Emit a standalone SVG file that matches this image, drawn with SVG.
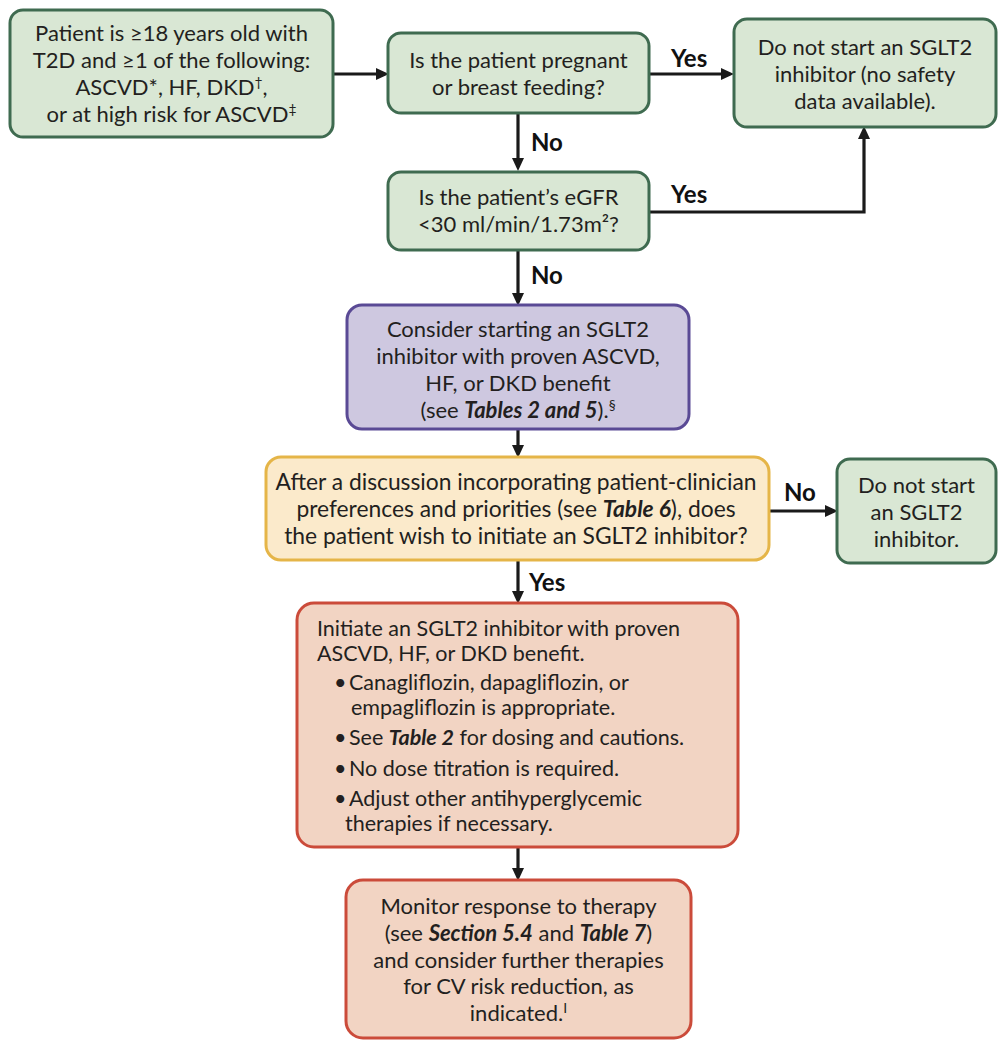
<svg xmlns="http://www.w3.org/2000/svg" width="1007" height="1050" viewBox="0 0 1007 1050">
<defs>
<style>
text{font-family:Lato,"Noto Sans","DejaVu Sans",sans-serif;font-size:22px;fill:#231f20}
.c{text-anchor:middle}
.lbl{font-weight:bold;font-size:24px;fill:#111}
.g{fill:#d9e7d4;stroke:#3f6b50;stroke-width:3}
.p{fill:#cec8e0;stroke:#5a4a95;stroke-width:3}
.y{fill:#fbeacb;stroke:#e5b548;stroke-width:3}
.r{fill:#f2d4c3;stroke:#cb4b3a;stroke-width:3}
.conn path{fill:none;stroke:#1a1a1a;stroke-width:3.2;marker-end:url(#ah)}
.bi{font-style:italic;font-weight:bold}
.sup{font-size:14px}
.yt{font-size:22.8px}
.rt{font-size:21.5px}
</style>
<marker id="ah" markerUnits="userSpaceOnUse" markerWidth="14" markerHeight="14" refX="6" refY="6" orient="auto" viewBox="0 0 14 14">
<path d="M0,0 L13,6 L0,12 z" fill="#1a1a1a"/>
</marker>
</defs>
<rect width="1007" height="1050" fill="#fff"/>

<g id="conn" class="conn">
<path d="M334,74 H382"/>
<path d="M649,74 H727"/>
<path d="M518,113 V164"/>
<path d="M649,212 H864 V133"/>
<path d="M518,250 V299"/>
<path d="M518,430 V451"/>
<path d="M769,511 H831"/>
<path d="M518,560 V597"/>
<path d="M518,847 V874"/>
</g>

<g id="labels">
<text class="lbl" x="671" y="67">Yes</text>
<text class="lbl" x="531" y="151">No</text>
<text class="lbl" x="671" y="203">Yes</text>
<text class="lbl" x="531" y="284">No</text>
<text class="lbl" x="784" y="501">No</text>
<text class="lbl" x="529" y="591">Yes</text>
</g>

<g id="n1">
<rect class="g" x="10" y="10" width="323" height="127" rx="13"/>
<text class="c" x="171.5" y="41">Patient is ≥18 years old with</text>
<text class="c" x="171.5" y="68">T2D and ≥1 of the following:</text>
<text class="c" x="171.5" y="95">ASCVD*, HF, DKD<tspan class="sup" dy="-8">†</tspan><tspan dy="8">,</tspan></text>
<text class="c" x="171.5" y="122">or at high risk for ASCVD<tspan class="sup" dy="-8">‡</tspan></text>
</g>

<g id="n2">
<rect class="g" x="388" y="33" width="261" height="80" rx="13"/>
<text class="c" x="518.5" y="68">Is the patient pregnant</text>
<text class="c" x="518.5" y="95">or breast feeding?</text>
</g>

<g id="n3">
<rect class="g" x="734" y="19" width="262" height="108" rx="13"/>
<text class="c" x="865" y="55">Do not start an SGLT2</text>
<text class="c" x="865" y="82">inhibitor (no safety</text>
<text class="c" x="865" y="109">data available).</text>
</g>

<g id="n4">
<rect class="g" x="388" y="172" width="261" height="78" rx="13"/>
<text class="c" x="518.5" y="205">Is the patient’s eGFR</text>
<text class="c" x="518.5" y="232">&lt;30 ml/min/1.73m²?</text>
</g>

<g id="n5">
<rect class="p" x="347" y="305" width="342" height="124" rx="15"/>
<text class="c" x="518" y="337">Consider starting an SGLT2</text>
<text class="c" x="518" y="364">inhibitor with proven ASCVD,</text>
<text class="c" x="518" y="391">HF, or DKD benefit</text>
<text class="c" x="518" y="418">(see <tspan class="bi">Tables 2 and 5</tspan>).<tspan class="sup" dy="-8">§</tspan></text>
</g>

<g id="n6">
<rect class="y" x="266" y="457" width="503" height="103" rx="15"/>
<text class="c yt" x="516" y="490">After a discussion incorporating patient-clinician</text>
<text class="c yt" x="516" y="517">preferences and priorities (see <tspan class="bi">Table 6</tspan>), does</text>
<text class="c yt" x="516" y="544">the patient wish to initiate an SGLT2 inhibitor?</text>
</g>

<g id="n7">
<rect class="g" x="837" y="459" width="159" height="104" rx="13"/>
<text class="c" x="916.5" y="493">Do not start</text>
<text class="c" x="916.5" y="520">an SGLT2</text>
<text class="c" x="916.5" y="547">inhibitor.</text>
</g>

<g id="n8">
<rect class="r" x="297" y="603" width="441" height="244" rx="17"/>
<text class="rt" x="317" y="636">Initiate an SGLT2 inhibitor with proven</text>
<text class="rt" x="317" y="661">ASCVD, HF, or DKD benefit.</text>
<text class="rt" x="334" y="690">•</text>
<text class="rt" x="349" y="690">Canagliflozin, dapagliflozin, or</text>
<text class="rt" x="351" y="715">empagliflozin is appropriate.</text>
<text class="rt" x="334" y="745">•</text>
<text class="rt" x="349" y="745">See <tspan class="bi">Table 2</tspan> for dosing and cautions.</text>
<text class="rt" x="334" y="776">•</text>
<text class="rt" x="349" y="776">No dose titration is required.</text>
<text class="rt" x="334" y="806">•</text>
<text class="rt" x="349" y="806">Adjust other antihyperglycemic</text>
<text class="rt" x="345" y="831">therapies if necessary.</text>
</g>

<g id="n9">
<rect class="r" x="346" y="880" width="345" height="158" rx="17"/>
<text class="c" x="518.5" y="914">Monitor response to therapy</text>
<text class="c" x="518.5" y="941">(see <tspan class="bi">Section 5.4</tspan> and <tspan class="bi">Table 7</tspan>)</text>
<text class="c" x="518.5" y="968">and consider further therapies</text>
<text class="c" x="518.5" y="994">for CV risk reduction, as</text>
<text class="c" x="518.5" y="1021">indicated.<tspan class="sup" dy="-8">I</tspan></text>
</g>
</svg>
